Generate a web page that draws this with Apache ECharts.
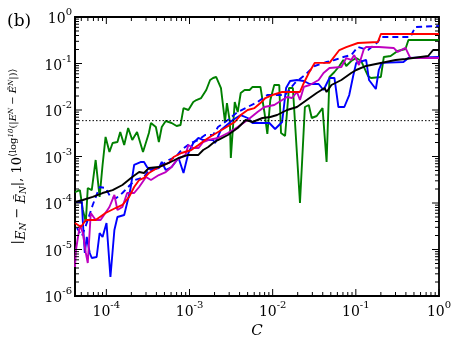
<!DOCTYPE html>
<html>
<head>
<meta charset="utf-8">
<script src="https://cdn.jsdelivr.net/npm/echarts@6/dist/echarts.min.js"></script>
<style>
html, body { margin: 0; padding: 0; background: #fff; }
#main { width: 463px; height: 349px; }
</style>
</head>
<body>
<div id="main"></div>
<script>
var myChart = echarts.init(document.getElementById('main'));

var xMin = 4.2e-5, xMax = 1, yMin = 1e-6, yMax = 1;
var refLevel = 5.9e-3;

var greenData = [
[4.2e-5,1.72e-4],[4.81e-5,1.90e-4],[5.22e-5,7.07e-5],[5.67e-5,3.90e-5],[5.98e-5,2.10e-4],
[6.68e-5,1.90e-4],[7.44e-5,8.41e-4],[8.30e-5,1.35e-4],[9.01e-5,6.57e-4],[9.79e-5,2.63e-3],
[1.09e-4,1.25e-3],[1.19e-4,1.95e-3],[1.36e-4,2.05e-3],[1.47e-4,3.36e-3],[1.64e-4,1.77e-3],
[1.83e-4,4.10e-3],[2.05e-4,2.26e-3],[2.34e-4,3.36e-3],[2.76e-4,1.25e-3],[3.25e-4,3.20e-3],
[3.44e-4,5.25e-3],[3.94e-4,4.31e-3],[4.28e-4,2.05e-3],[4.64e-4,4.31e-3],[5.18e-4,5.80e-3],
[6.10e-4,5.25e-3],[7.00e-4,4.53e-3],[7.80e-4,4.76e-3],[8.47e-4,1.10e-2],[9.70e-4,1.00e-2],
[1.11e-3,1.49e-2],[1.21e-3,1.64e-2],[1.38e-3,1.81e-2],[1.59e-3,2.69e-2],[1.77e-3,4.42e-2],
[1.92e-3,4.88e-2],[2.09e-3,5.13e-2],[2.39e-3,2.97e-2],[2.67e-3,5.52e-3],[2.82e-3,1.41e-2],
[3.06e-3,5.52e-3],[3.14e-3,9.29e-4],[3.50e-3,1.49e-2],[3.80e-3,9.06e-3],[4.13e-3,2.32e-2],
[4.60e-3,2.69e-2],[5.28e-3,2.69e-2],[5.73e-3,3.13e-2],[7.13e-3,3.13e-2],[7.95e-3,9.06e-3],
[8.63e-3,3.05e-3],[9.37e-3,1.64e-2],[1.045e-2,3.45e-2],[1.20e-2,3.45e-2],[1.26e-2,3.20e-3],
[1.41e-2,2.76e-3],[1.57e-2,2.97e-2],[1.75e-2,2.97e-2],[2.13e-2,1.0e-4],[2.44e-2,1.16e-2],
[2.72e-2,1.28e-2],[2.95e-2,6.73e-3],[3.38e-2,7.43e-3],[3.98e-2,1.10e-2],[4.45e-2,7.62e-4],
[4.82e-2,5.13e-2],[5.53e-2,6.57e-2],[6.34e-2,8.84e-2],[7.07e-2,0.119],[7.67e-2,8.84e-2],
[8.80e-2,0.113],[0.101,0.131],[0.116,0.113],[0.140,5.39e-2],[0.152,4.88e-2],
[0.200,5.13e-2],[0.217,0.138],[0.262,0.145],[0.318,0.186],[0.395,0.205],
[0.429,0.320],[1,0.320]
];

var blueData = [
[4.2e-5,1.05e-4],[5.08e-5,1.05e-4],[5.22e-5,3.90e-5],[5.51e-5,8.41e-6],[5.82e-5,1.86e-5],
[6.32e-5,8.41e-6],[6.68e-5,6.57e-6],[7.65e-5,6.90e-6],[8.30e-5,2.26e-5],[9.01e-5,1.86e-5],
[1.005e-4,3.71e-5],[1.12e-4,2.56e-6],[1.25e-4,2.63e-5],[1.36e-4,5.00e-5],[1.64e-4,5.52e-5],
[1.94e-4,1.90e-4],[2.16e-4,6.57e-4],[2.62e-4,7.62e-4],[2.84e-4,7.62e-4],[3.08e-4,5.94e-4],
[3.44e-4,5.12e-4],[4.28e-4,5.66e-4],[4.64e-4,7.62e-4],[5.18e-4,5.12e-4],[6.10e-4,5.94e-4],
[7.39e-4,9.29e-4],[8.47e-4,4.42e-4],[9.70e-4,1.19e-3],[1.11e-3,1.95e-3],[1.28e-3,2.50e-3],
[1.46e-3,2.26e-3],[1.92e-3,2.26e-3],[2.03e-3,1.95e-3],[2.39e-3,3.72e-3],[3.32e-3,6.09e-3],
[4.13e-3,7.80e-3],[5.00e-3,6.73e-3],[5.73e-3,5.25e-3],[9.12e-3,5.25e-3],[1.07e-2,3.90e-3],
[1.30e-2,5.52e-3],[1.45e-2,2.97e-2],[1.62e-2,4.21e-2],[1.96e-2,4.42e-2],[2.37e-2,4.21e-2],
[2.79e-2,3.62e-2],[3.57e-2,3.62e-2],[4.09e-2,2.69e-2],[4.82e-2,4.88e-2],[5.53e-2,4.88e-2],
[6.17e-2,1.16e-2],[7.27e-2,1.16e-2],[8.33e-2,2.10e-2],[9.29e-2,5.39e-2],[0.101,0.103],
[0.133,0.119],[0.144,4.42e-2],[0.174,2.83e-2],[0.189,7.25e-2],[0.205,0.103],
[0.374,0.108],[0.429,0.131],[1,0.138]
];

var blueDashData = [
[4.43e-5,2.90e-5],[5.08e-5,1.95e-5],[5.82e-5,3.71e-5],[6.86e-5,9.06e-5],[8.30e-5,2.21e-4],
[9.79e-5,2.10e-4],[1.12e-4,1.35e-4],[1.32e-4,1.28e-4],[1.56e-4,1.64e-4],[1.83e-4,2.21e-4],
[2.22e-4,3.12e-4],[2.84e-4,3.62e-4],[3.25e-4,5.12e-4],[4.28e-4,5.94e-4],[5.62e-4,8.41e-4],
[6.80e-4,9.76e-4],[8.02e-4,1.38e-3],[1.025e-3,1.95e-3],[1.28e-3,2.26e-3],[1.54e-3,2.90e-3],
[1.92e-3,2.90e-3],[2.20e-3,4.31e-3],[2.89e-3,6.09e-3],[3.80e-3,9.06e-3],[5.00e-3,1.16e-2],
[6.57e-3,1.49e-2],[8.63e-3,2.10e-2],[1.41e-2,2.10e-2],[1.85e-2,3.81e-2],[2.44e-2,5.66e-2],
[3.20e-2,8.84e-2],[4.45e-2,0.108],[5.53e-2,0.119],[7.07e-2,0.138],[8.80e-2,0.152],
[0.106,0.226],[0.140,0.195],[0.184,0.290],[0.200,0.371],[0.453,0.371],
[0.519,0.609],[1,0.640]
];

var magentaData = [
[4.2e-5,4.21e-6],[4.31e-5,9.76e-6],[4.81e-5,3.36e-5],[5.22e-5,2.26e-5],[5.67e-5,8.41e-6],
[5.98e-5,5.12e-6],[6.50e-5,6.09e-5],[7.44e-5,4.31e-5],[8.53e-5,4.31e-5],[1.09e-4,8.20e-5],
[1.25e-4,1.49e-4],[1.36e-4,7.07e-5],[1.56e-4,8.20e-5],[1.78e-4,1.64e-4],[2.16e-4,1.64e-4],
[2.48e-4,2.21e-4],[3.00e-4,3.62e-4],[3.44e-4,3.12e-4],[4.28e-4,4.00e-4],[5.18e-4,4.64e-4],
[6.10e-4,5.94e-4],[7.00e-4,8.41e-4],[8.94e-4,1.08e-3],[9.70e-4,1.77e-3],[1.11e-3,1.52e-3],
[1.28e-3,1.52e-3],[1.46e-3,2.05e-3],[1.68e-3,2.26e-3],[2.20e-3,2.50e-3],[2.89e-3,3.20e-3],
[3.80e-3,4.31e-3],[5.00e-3,6.09e-3],[6.57e-3,9.06e-3],[7.95e-3,1.16e-2],[1.045e-2,1.28e-2],
[1.30e-2,1.64e-2],[1.49e-2,1.90e-2],[1.71e-2,1.81e-2],[1.96e-2,2.44e-2],[2.13e-2,1.64e-2],
[2.37e-2,3.13e-2],[2.79e-2,3.45e-2],[3.57e-2,4.42e-2],[4.09e-2,6.25e-2],[4.82e-2,8.00e-2],
[6.70e-2,8.41e-2],[7.67e-2,0.131],[8.80e-2,0.119],[9.55e-2,0.152],[0.109,9.29e-2],
[0.125,0.205],[0.133,0.226],[0.189,0.226],[0.285,0.216],[0.318,0.177],
[0.395,0.216],[0.417,0.226],[0.453,0.131],[1,0.131]
];

var redData = [
[4.2e-5,3.71e-5],[4.94e-5,3.05e-5],[5.67e-5,4.31e-5],[7.44e-5,4.31e-5],[9.79e-5,6.09e-5],
[1.29e-4,7.80e-5],[1.56e-4,9.06e-5],[1.88e-4,1.35e-4],[2.16e-4,2.21e-4],[2.48e-4,3.12e-4],
[2.84e-4,3.45e-4],[3.25e-4,4.42e-4],[4.28e-4,5.94e-4],[5.62e-4,7.25e-4],[6.44e-4,9.76e-4],
[8.02e-4,1.19e-3],[1.05e-3,1.38e-3],[1.28e-3,1.77e-3],[1.54e-3,2.26e-3],[1.92e-3,2.90e-3],
[2.67e-3,4.10e-3],[3.50e-3,5.52e-3],[4.13e-3,7.80e-3],[5.00e-3,1.00e-2],[6.05e-3,1.10e-2],
[7.13e-3,1.41e-2],[8.17e-3,1.81e-2],[9.89e-3,2.10e-2],[1.30e-2,2.44e-2],[2.13e-2,2.44e-2],
[2.37e-2,3.81e-2],[2.72e-2,6.25e-2],[3.20e-2,0.103],[4.82e-2,0.103],[6.34e-2,0.195],
[7.67e-2,0.226],[0.106,0.276],[0.184,0.290],[0.200,0.431],[0.519,0.431],[1,0.431]
];

var blackData = [
[4.2e-5,1.05e-4],[5.22e-5,1.16e-4],[6.86e-5,1.35e-4],[9.01e-5,1.64e-4],[1.19e-4,1.90e-4],
[1.56e-4,2.44e-4],[2.05e-4,3.62e-4],[2.48e-4,4.64e-4],[2.84e-4,4.42e-4],[3.25e-4,5.66e-4],
[4.28e-4,5.94e-4],[5.62e-4,7.25e-4],[7.39e-4,9.29e-4],[9.70e-4,1.08e-3],[1.28e-3,1.08e-3],
[1.46e-3,1.38e-3],[1.68e-3,1.60e-3],[1.92e-3,1.95e-3],[2.20e-3,2.26e-3],[2.89e-3,2.90e-3],
[3.80e-3,4.10e-3],[4.73e-3,6.09e-3],[5.73e-3,5.52e-3],[7.53e-3,6.73e-3],[9.37e-3,7.07e-3],
[1.13e-2,7.80e-3],[1.49e-2,1.00e-2],[1.96e-2,1.16e-2],[2.57e-2,1.64e-2],[3.38e-2,2.32e-2],
[4.21e-2,2.97e-2],[4.45e-2,2.44e-2],[5.09e-2,3.45e-2],[6.70e-2,4.42e-2],[8.80e-2,6.25e-2],
[0.101,7.25e-2],[0.133,8.84e-2],[0.174,9.76e-2],[0.229,0.108],[0.301,0.119],
[0.395,0.125],[0.741,0.145],[0.849,0.195],[1,0.195]
];

// tick marks drawn on all four sides, matplotlib style (inside)
var tickData = [];
for (var k = -5; k <= 0; k++) {
    var base = Math.pow(10, k);
    if (base >= xMin) tickData.push([base, yMin, 0]);
    for (var m = 2; m <= 9 && k < 0; m++) {
        var v = m * base;
        if (v >= xMin && v <= xMax) tickData.push([v, yMin, 1]);
    }
}
for (var k = -6; k <= 0; k++) {
    var base = Math.pow(10, k);
    tickData.push([xMin, base, 2]);
    for (var m = 2; m <= 9 && k < 0; m++) tickData.push([xMin, m * base, 3]);
}

var serif = 'DejaVu Serif';

function tickLabel(v) {
    var e = Math.round(Math.log10(v));
    return '{b|10}{s|' + e + '}';
}
var labelRich = {
    b: {fontSize: 14, fontFamily: serif, color: '#000', verticalAlign: 'bottom', lineHeight: 19},
    s: {fontSize: 10, fontFamily: serif, color: '#000', verticalAlign: 'top', lineHeight: 12}
};

var lineBase = function (name, data, color, width, type) {
    return {
        name: name,
        type: 'line',
        data: data,
        showSymbol: false,
        symbol: 'none',
        lineStyle: {color: color, width: width, type: type || 'solid'},
        silent: true
    };
};

option = {
    animation: false,
    backgroundColor: '#fff',
    title: {
        text: '(b)',
        left: 2,
        top: 8,
        textStyle: {fontFamily: serif, fontSize: 17, fontWeight: 'normal', color: '#000'}
    },
    grid: {
        left: 70, right: 24, top: 17, bottom: 53,
        show: true, borderColor: '#000', borderWidth: 1.8
    },
    xAxis: {
        type: 'log',
        min: xMin, max: xMax,
        name: 'C',
        nameLocation: 'middle',
        nameGap: 26,
        nameTextStyle: {fontFamily: serif, fontStyle: 'italic', fontSize: 15, color: '#000'},
        axisLine: {lineStyle: {color: '#000', width: 1.8}},
        axisTick: {show: false},
        splitLine: {show: false},
        axisLabel: {showMinLabel: false, margin: 4, formatter: tickLabel, rich: labelRich}
    },
    yAxis: {
        type: 'log',
        min: yMin, max: yMax,
        name: '|{it|E}{sb|N} \u2212 {it|\u1EBC}{sb|N}|, 10{sp|\u27E8log}{sps|10}{sp|(|}{spi|E}{sps|N}{sp| \u2212 }{spi|\u1EBC}{sps|N}{sp||)\u27E9}',
        nameLocation: 'middle',
        nameGap: 47,
        nameTextStyle: {
            fontFamily: serif, fontSize: 13, color: '#000',
            rich: {
                it: {fontFamily: serif, fontStyle: 'italic', fontSize: 13, verticalAlign: 'bottom', lineHeight: 20},
                sb: {fontFamily: serif, fontStyle: 'italic', fontSize: 9, verticalAlign: 'bottom', lineHeight: 14},
                sp: {fontFamily: serif, fontSize: 10, verticalAlign: 'top', lineHeight: 12},
                spi: {fontFamily: serif, fontStyle: 'italic', fontSize: 10, verticalAlign: 'top', lineHeight: 12},
                sps: {fontFamily: serif, fontStyle: 'italic', fontSize: 7, verticalAlign: 'top', lineHeight: 17}
            }
        },
        axisLine: {lineStyle: {color: '#000', width: 1.8}},
        axisTick: {show: false},
        splitLine: {show: false},
        axisLabel: {margin: 3, formatter: tickLabel, rich: labelRich}
    },
    series: [
        lineBase('green', greenData, '#008000', 1.9),
        lineBase('blue', blueData, '#0000ff', 1.9),
        lineBase('blue dashed', blueDashData, '#0000ff', 1.9, [6, 4]),
        lineBase('magenta', magentaData, '#bf00bf', 1.9),
        lineBase('red', redData, '#ff0000', 1.9),
        lineBase('black', blackData, '#000000', 1.9),
        {
            name: 'ref',
            type: 'line',
            data: [[xMin, refLevel], [xMax, refLevel]],
            showSymbol: false,
            symbol: 'none',
            lineStyle: {color: '#000', width: 1, type: [1.5, 2]},
            silent: true
        },
        {
            name: 'ticks',
            type: 'custom',
            silent: true,
            data: tickData,
            z: 10,
            renderItem: function (params, api) {
                var kind = api.value(2);
                var len = (kind === 0 || kind === 2) ? 7 : 4;
                var s = {stroke: '#000', lineWidth: 1};
                if (kind < 2) {
                    var b = api.coord([api.value(0), yMin]);
                    var t = api.coord([api.value(0), yMax]);
                    return {type: 'group', children: [
                        {type: 'line', shape: {x1: b[0], y1: b[1], x2: b[0], y2: b[1] - len}, style: s},
                        {type: 'line', shape: {x1: t[0], y1: t[1], x2: t[0], y2: t[1] + len}, style: s}
                    ]};
                }
                var l = api.coord([xMin, api.value(1)]);
                var r = api.coord([xMax, api.value(1)]);
                return {type: 'group', children: [
                    {type: 'line', shape: {x1: l[0], y1: l[1], x2: l[0] + len, y2: l[1]}, style: s},
                    {type: 'line', shape: {x1: r[0], y1: r[1], x2: r[0] - len, y2: r[1]}, style: s}
                ]};
            }
        }
    ]
};

myChart.setOption(option);
</script>
</body>
</html>
